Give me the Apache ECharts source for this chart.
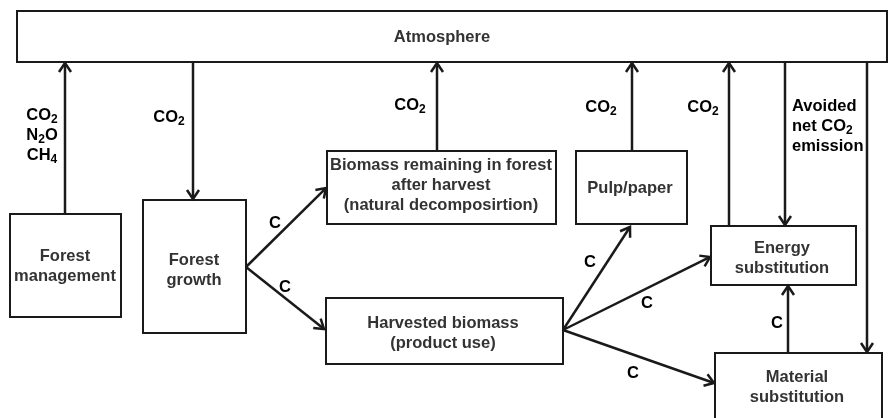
<!DOCTYPE html>
<html>
<head>
<meta charset="utf-8">
<script src="https://cdn.jsdelivr.net/npm/echarts@6/dist/echarts.min.js"></script>
<style>
  html, body { margin: 0; padding: 0; background: #fff; }
  #chart { width: 888px; height: 418px; }
</style>
</head>
<body>
<div id="chart"></div>
<script>
// diagram units = axis units (x 0..888, y 0..418 top-down)
const boxRects = [
  [17, 11, 887, 62],     // Atmosphere
  [10, 214, 121, 317],   // Forest management
  [143, 200, 246, 333],  // Forest growth
  [327, 151, 556, 224],  // Biomass remaining
  [576, 151, 687, 224],  // Pulp/paper
  [326, 298, 563, 364],  // Harvested biomass
  [711, 226, 856, 285],  // Energy substitution
  [715, 353, 882, 425]   // Material substitution
]

const boxTexts = [
  ['Atmosphere', 442, 37],
  ['Forest\nmanagement', 65, 266],
  ['Forest\ngrowth', 194, 270],
  ['Biomass remaining in forest\nafter harvest\n(natural decomposirtion)', 441, 185],
  ['Pulp/paper', 630, 188],
  ['Harvested biomass\n(product use)', 443, 333],
  ['Energy\nsubstitution', 782, 258],
  ['Material\nsubstitution', 797, 387]
]

// [x1, y1, x2, y2], head at the second point
const arrows = [
  [65, 214, 65, 63],
  [193, 62, 193, 199],
  [246, 267, 326, 188],
  [246, 267, 324, 329],
  [437, 151, 437, 63],
  [563, 330, 630, 227],
  [563, 330, 710, 257],
  [563, 330, 714, 383],
  [632, 151, 632, 63],
  [729, 226, 729, 63],
  [785, 62, 785, 225],
  [867, 62, 867, 352],
  [788, 353, 788, 286]
]

const flowTexts = [
  ['{b|CO}{s|2}\n{b|N}{s|2}{b|O}\n{b|CH}{s|4}', 42, 135, 'center'],
  ['{b|CO}{s|2}', 169, 117, 'center'],
  ['{b|CO}{s|2}', 410, 105, 'center'],
  ['{b|CO}{s|2}', 601, 107, 'center'],
  ['{b|CO}{s|2}', 703, 107, 'center'],
  ['{b|Avoided}\n{b|net CO}{s|2}\n{b|emission}', 792, 126, 'left'],
  ['{b|C}', 275, 223, 'center'],
  ['{b|C}', 285, 287, 'center'],
  ['{b|C}', 590, 262, 'center'],
  ['{b|C}', 647, 303, 'center'],
  ['{b|C}', 633, 373, 'center'],
  ['{b|C}', 777, 323, 'center']
]

const FONT = '"Liberation Sans", Arial, sans-serif'
const INK = '#1a1a1a'
const TEXT = '#333'

const chart = echarts.init(document.getElementById('chart'))

chart.setOption({
  animation: false,
  grid: { left: 0, right: 0, top: 0, bottom: 0 },
  xAxis: { type: 'value', min: 0, max: 888, show: false },
  yAxis: { type: 'value', min: 0, max: 418, inverse: true, show: false },
  series: [
    {
      type: 'custom',
      data: boxRects,
      renderItem: function (params, api) {
        const p1 = api.coord([api.value(0), api.value(1)])
        const p2 = api.coord([api.value(2), api.value(3)])
        return {
          type: 'rect',
          shape: { x: p1[0], y: p1[1], width: p2[0] - p1[0], height: p2[1] - p1[1] },
          style: { fill: '#fff', stroke: INK, lineWidth: 2 }
        }
      }
    },
    {
      type: 'custom',
      data: arrows,
      renderItem: function (params, api) {
        const a = api.coord([api.value(0), api.value(1)])
        const b = api.coord([api.value(2), api.value(3)])
        const ang = Math.atan2(b[1] - a[1], b[0] - a[0])
        const len = 9
        const half = 6
        const bx = b[0] - len * Math.cos(ang)
        const by = b[1] - len * Math.sin(ang)
        const nx = -Math.sin(ang) * half
        const ny = Math.cos(ang) * half
        return {
          type: 'group',
          children: [
            {
              type: 'line',
              shape: { x1: a[0], y1: a[1], x2: b[0] - 1.5 * Math.cos(ang), y2: b[1] - 1.5 * Math.sin(ang) },
              style: { stroke: INK, lineWidth: 2.5 }
            },
            {
              type: 'polyline',
              shape: { points: [[bx + nx, by + ny], [b[0], b[1]], [bx - nx, by - ny]] },
              style: { stroke: INK, lineWidth: 2.5, fill: null, lineJoin: 'miter' }
            }
          ]
        }
      }
    },
    {
      type: 'custom',
      data: boxTexts.map(d => [d[1], d[2]]),
      renderItem: function (params, api) {
        const d = boxTexts[params.dataIndex]
        const p = api.coord([d[1], d[2]])
        return {
          type: 'text',
          x: p[0],
          y: p[1],
          style: {
            text: d[0],
            fill: TEXT,
            font: 'bold 16.5px ' + FONT,
            lineHeight: 20,
            align: 'center',
            verticalAlign: 'middle'
          }
        }
      }
    },
    {
      type: 'custom',
      data: flowTexts.map(d => [d[1], d[2]]),
      renderItem: function (params, api) {
        const d = flowTexts[params.dataIndex]
        const p = api.coord([d[1], d[2]])
        return {
          type: 'text',
          x: p[0],
          y: p[1],
          style: {
            text: d[0],
            align: d[3],
            verticalAlign: 'middle',
            rich: {
              b: { fontFamily: FONT, fontWeight: 'bold', fontSize: 16.5, color: TEXT, lineHeight: 20 },
              s: { fontFamily: FONT, fontWeight: 'bold', fontSize: 12, color: TEXT, lineHeight: 20, padding: [10, 0, 0, 0] }
            }
          }
        }
      }
    }
  ]
})
</script>
</body>
</html>
